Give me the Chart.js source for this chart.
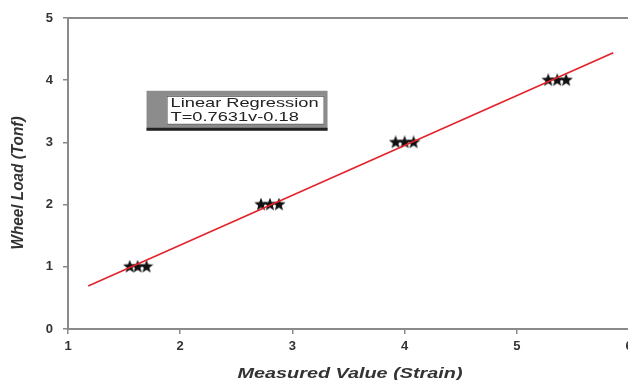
<!DOCTYPE html>
<html>
<head>
<meta charset="utf-8">
<script src="https://cdn.jsdelivr.net/npm/chart.js@4"></script>
<style>
  html, body { margin: 0; padding: 0; background: #fff; overflow: hidden; }
  #wrap { width: 640px; height: 380px; }
</style>
</head>
<body>
<div id="wrap"><canvas id="chart" width="640" height="380"></canvas></div>
<script>
// measured points (strain vs wheel load), three readings per load step
const strainValues = [1.55, 1.62, 1.70, 2.72, 2.80, 2.88, 3.92, 4.00, 4.08, 5.28, 5.36, 5.44];
const loadValues   = [1, 1, 1, 2, 2, 2, 3, 3, 3, 4, 4, 4];
// fitted line end points
const fitX = [1.18, 5.86];
const fitY = [0.69, 4.44];
const xTicks = [1, 2, 3, 4, 5, 6];
const yTicks = [0, 1, 2, 3, 4, 5];
const legendLines = ['Linear Regression', 'T=0.7631v-0.18'];
const xTitle = 'Measured Value (Strain)';
const yTitle = 'Wheel Load (Tonf)';

function makeStar(size) {
  const c = document.createElement('canvas');
  c.width = size; c.height = size;
  const g = c.getContext('2d');
  const cx = size / 2, cy = size / 2, R = size / 2, r = R * 0.42;
  g.beginPath();
  for (let i = 0; i < 10; i++) {
    const rad = i % 2 === 0 ? R : r;
    const a = -Math.PI / 2 + i * Math.PI / 5;
    g.lineTo(cx + rad * Math.cos(a), cy + rad * Math.sin(a));
  }
  g.closePath();
  g.fillStyle = '#111';
  g.fill();
  return c;
}

const boxPlugin = {
  id: 'boxPlugin',
  afterDraw(chart) {
    const ctx = chart.ctx;
    const area = chart.chartArea;
    // top frame line
    ctx.save();
    ctx.strokeStyle = '#8a8a8a';
    ctx.lineWidth = 2;
    ctx.beginPath();
    ctx.moveTo(area.left, area.top);
    ctx.lineTo(area.right + 12, area.top);
    ctx.stroke();

    // regression legend box
    const x = chart.scales.x.getPixelForValue(1.70);
    const y = chart.scales.y.getPixelForValue(3.83);
    const w = 181, h = 39;
    ctx.fillStyle = '#8c8c8c';
    ctx.fillRect(x, y, w, h);
    ctx.fillStyle = '#222';
    ctx.fillRect(x, y + h - 2, w, 3);
    ctx.fillStyle = '#fff';
    ctx.fillRect(x + 20, y + 5, 158, 29);
    ctx.strokeStyle = '#555';
    ctx.lineWidth = 1;
    ctx.strokeRect(x + 20.5, y + 5.5, 157, 28);
    ctx.fillStyle = '#222';
    ctx.font = '13px "Liberation Sans", Arial, sans-serif';
    ctx.textBaseline = 'middle';
    const lw = ctx.measureText(legendLines[0]).width;
    ctx.save();
    ctx.translate(x + 24, 0);
    ctx.scale(148 / lw, 1);
    ctx.fillText(legendLines[0], 0, y + 13);
    ctx.fillText(legendLines[1], 0, y + 27);
    ctx.restore();

    // axis titles, stretched like the source image
    ctx.fillStyle = '#333';
    ctx.textAlign = 'center';
    ctx.font = 'italic bold 15px "Liberation Sans", Arial, sans-serif';
    let tw = ctx.measureText(xTitle).width;
    ctx.save();
    ctx.translate(350, 374);
    ctx.scale(225 / tw, 1);
    ctx.fillText(xTitle, 0, 0);
    ctx.restore();

    tw = ctx.measureText(yTitle).width;
    ctx.save();
    ctx.translate(18, 183);
    ctx.rotate(-Math.PI / 2);
    ctx.scale(133 / tw, 1.15);
    ctx.fillText(yTitle, 0, 0);
    ctx.restore();
    ctx.restore();
  }
};

const axisColor = '#8a8a8a';
const tickFont = { family: '"Liberation Sans", Arial, sans-serif', size: 13, weight: 'bold' };

new Chart(document.getElementById('chart'), {
  type: 'scatter',
  data: {
    datasets: [
      {
        type: 'line',
        label: 'fit',
        data: fitX.map((v, i) => ({ x: v, y: fitY[i] })),
        borderColor: '#e3222b',
        borderWidth: 1.6,
        pointRadius: 0,
        fill: false
      },
      {
        label: 'measured',
        data: strainValues.map((v, i) => ({ x: v, y: loadValues[i] })),
        pointStyle: makeStar(14),
        pointRadius: 7
      }
    ]
  },
  options: {
    responsive: false,
    animation: false,
    layout: { padding: { top: 18, right: 11, left: 0, bottom: 0 } },
    plugins: { legend: { display: false }, tooltip: { enabled: false } },
    scales: {
      x: {
        type: 'linear',
        min: 1, max: 6,
        afterBuildTicks: s => { s.ticks = xTicks.map(v => ({ value: v })); },
        afterFit: s => { s.height = 51; },
        grid: { display: true, drawOnChartArea: false, drawTicks: true, tickLength: 5, color: axisColor, lineWidth: 1.5 },
        border: { color: axisColor, width: 2 },
        ticks: { color: '#333', font: tickFont, padding: 5, autoSkip: false, maxRotation: 0 }
      },
      y: {
        min: 0, max: 5,
        afterBuildTicks: s => { s.ticks = yTicks.map(v => ({ value: v })); },
        afterFit: s => { s.width = 68; },
        grid: { display: true, drawOnChartArea: false, drawTicks: true, tickLength: 5, color: axisColor, lineWidth: 1.5 },
        border: { color: axisColor, width: 2 },
        ticks: { color: '#333', font: tickFont, padding: 10 }
      }
    }
  },
  plugins: [boxPlugin]
});
</script>
</body>
</html>
